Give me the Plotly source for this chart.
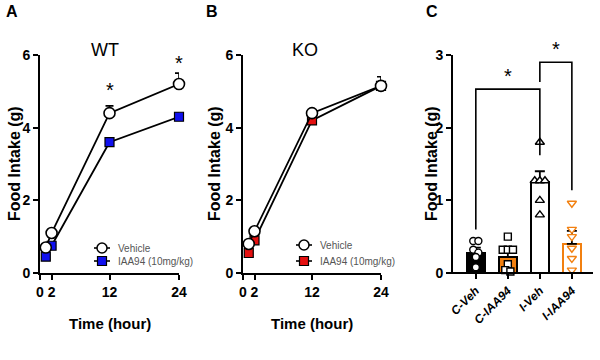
import plotly.graph_objects as go

# ---------------- data ----------------
time_h = [1, 2, 12, 24]
wt_vehicle = [0.7, 1.1, 4.4, 5.2]
wt_vehicle_err = [0.05, 0.08, 0.2, 0.3]
wt_iaa = [0.45, 0.75, 3.6, 4.3]
wt_iaa_err = [0.05, 0.08, 0.1, 0.1]
ko_vehicle = [0.8, 1.15, 4.4, 5.15]
ko_vehicle_err = [0.05, 0.08, 0.08, 0.25]
ko_iaa = [0.55, 0.9, 4.2, 5.15]
ko_iaa_err = [0.05, 0.05, 0.08, 0.1]
time_ticks = [0, 2, 12, 24]
fi_ticks_ab = [0, 2, 4, 6]
legend_labels = ["Vehicle", "IAA94 (10mg/kg)"]

groups = ["C-Veh", "C-IAA94", "I-Veh", "I-IAA94"]
group_means = [0.28, 0.22, 1.25, 0.40]
group_sem = [0.07, 0.08, 0.15, 0.18]
c_veh_pts = [0.44, 0.44, 0.32, 0.28, 0.22, 0.08]
c_iaa_pts = [0.50, 0.32, 0.32, 0.32, 0.12, 0.04, 0.02]
i_veh_pts = [1.80, 1.27, 1.27, 1.27, 1.00, 0.80]
i_iaa_pts = [0.96, 0.60, 0.50, 0.34, 0.20, 0.04]
fi_ticks_c = [0, 1, 2, 3]

BLUE = "#1010ee"
RED = "#e41010"
ORANGE = "#f28010"
FONT = "Liberation Sans, Arial, sans-serif"
NARROW = "Liberation Sans Narrow, Arial Narrow, Liberation Sans, sans-serif"
W, H = 600, 360

fig = go.Figure()

def px2x(p):
    return p / W

def px2y(p):
    return 1 - p / H

# ---------------- panel A & B line plots ----------------
def add_lines(xa, ya, veh, veh_err, iaa, iaa_err, color):
    fig.add_trace(go.Scatter(
        x=time_h, y=iaa, mode="lines+markers", name=legend_labels[1],
        xaxis=xa, yaxis=ya, showlegend=False, cliponaxis=False,
        line=dict(color="black", width=1.8),
        marker=dict(symbol="square", size=9, color=color, line=dict(color="black", width=1.2)),
        error_y=dict(type="data", symmetric=False, array=iaa_err, arrayminus=[0]*4,
                     color="black", thickness=1.5, width=4),
    ))
    fig.add_trace(go.Scatter(
        x=time_h, y=veh, mode="lines+markers", name=legend_labels[0],
        xaxis=xa, yaxis=ya, showlegend=False, cliponaxis=False,
        line=dict(color="black", width=1.8),
        marker=dict(symbol="circle", size=11, color="white", line=dict(color="black", width=1.6)),
        error_y=dict(type="data", symmetric=False, array=veh_err, arrayminus=[0]*4,
                     color="black", thickness=1.6, width=4),
    ))

add_lines("x", "y", wt_vehicle, wt_vehicle_err, wt_iaa, wt_iaa_err, BLUE)
add_lines("x2", "y2", ko_vehicle, ko_vehicle_err, ko_iaa, ko_iaa_err, RED)

# ---------------- panel C bars ----------------
xpos = list(range(len(groups)))
bar_fill = ["black", ORANGE, "white", "white"]
bar_line = ["black", "black", "black", ORANGE]
fig.add_trace(go.Bar(
    x=xpos, y=group_means, width=0.56, xaxis="x3", yaxis="y3", showlegend=False,
    marker=dict(color=bar_fill, line=dict(color=bar_line, width=2)),
    error_y=dict(type="data", symmetric=False, array=group_sem, arrayminus=[0]*4,
                 color="black", thickness=1.8, width=5),
))

def swarm(center, vals, step=0.16, tol=0.07):
    order = sorted(range(len(vals)), key=lambda k: -vals[k])
    grp = []
    for k in order:
        if grp and abs(vals[grp[-1][0]] - vals[k]) < tol:
            grp[-1].append(k)
        else:
            grp.append([k])
    out = [center] * len(vals)
    for g in grp:
        n = len(g)
        for j, k in enumerate(g):
            out[k] = center + (j - (n - 1) / 2) * step
    return out

pt_specs = [
    (c_veh_pts, "circle", "black", 7),
    (c_iaa_pts, "square", "black", 7),
    (i_veh_pts, "triangle-up", "black", 8),
    (i_iaa_pts, "triangle-down", ORANGE, 8),
]
for gi, (vals, sym, col, sz) in enumerate(pt_specs):
    fig.add_trace(go.Scatter(
        x=swarm(gi, vals), y=vals, mode="markers", xaxis="x3", yaxis="y3",
        showlegend=False, cliponaxis=False,
        marker=dict(symbol=sym, size=sz, color="white", line=dict(color=col, width=1.4)),
    ))

# significance brackets (group a, group b, height, left leg bottom, right leg bottom)
brackets = [(0, 2, 2.53, 0.6, 1.62), (2, 3, 2.9, 2.63, 1.14)]
for a, b, h, la, lb in brackets:
    fig.add_trace(go.Scatter(
        x=[a, a, b, b], y=[la, h, h, lb], mode="lines", xaxis="x3", yaxis="y3",
        showlegend=False, hoverinfo="skip", cliponaxis=False,
        line=dict(color="black", width=1.6),
    ))
    fig.add_annotation(x=(a + b) / 2, y=h, xref="x3", yref="y3", text="*", showarrow=False,
                       yanchor="bottom", yshift=0, font=dict(size=20, color="black", family=FONT))

# ---------------- axes ----------------
ydom = [(H - 273) / H, (H - 55) / H]
tickfont = dict(family=NARROW, size=14, color="black", weight="bold")
ax_common = dict(showline=True, linecolor="black", linewidth=2, ticks="outside",
                 ticklen=5, tickwidth=2, tickcolor="black", showgrid=False, zeroline=False,
                 automargin=False)
xtitle_font = dict(family=NARROW, size=15, color="black", weight="bold")
ytitle_font = dict(family=FONT, size=16, color="black", weight="bold")

fig.update_layout(
    xaxis=dict(domain=[40 / W, 179 / W], range=[0, 24], tickvals=time_ticks, tickfont=tickfont,
               anchor="y", **ax_common),
    yaxis=dict(domain=ydom, range=[0, 6], tickvals=fi_ticks_ab, tickfont=tickfont,
               anchor="x", **ax_common),
    xaxis2=dict(domain=[243 / W, 381 / W], range=[0, 24], tickvals=time_ticks, tickfont=tickfont,
                anchor="y2", **ax_common),
    yaxis2=dict(domain=ydom, range=[0, 6], tickvals=fi_ticks_ab, tickfont=tickfont,
                anchor="x2", **ax_common),
    xaxis3=dict(domain=[447 / W, 593 / W], range=[-0.9, 3.66], tickvals=xpos, ticktext=groups,
                tickangle=-45, anchor="free", position=ydom[0],
                tickfont=dict(family=FONT, size=12, color="black", weight="bold", style="italic"),
                **ax_common),
    yaxis3=dict(domain=ydom, range=[0, 3], tickvals=fi_ticks_c, tickfont=tickfont,
                anchor="free", position=452 / W, **ax_common),
)

# axis titles
for px in [15, 215, 432]:
    fig.add_annotation(x=px2x(px), y=px2y(164), xref="paper", yref="paper", text="Food Intake (g)",
                       textangle=-90, showarrow=False, xanchor="center", yanchor="middle",
                       font=ytitle_font)
for px in [110, 312]:
    fig.add_annotation(x=px2x(px), y=px2y(323), xref="paper", yref="paper", text="Time (hour)",
                       showarrow=False, xanchor="center", yanchor="middle", font=xtitle_font)

# manual legends
def add_legend(cx, cy0, dy, sq_color):
    for i, lab in enumerate(legend_labels):
        cy = cy0 + i * dy
        fig.add_shape(type="line", xref="paper", yref="paper",
                      x0=px2x(cx - 8), x1=px2x(cx + 8), y0=px2y(cy), y1=px2y(cy),
                      line=dict(color="black", width=1.6))
        if i == 0:
            fig.add_shape(type="circle", xref="paper", yref="paper",
                          x0=px2x(cx - 5), x1=px2x(cx + 5), y0=px2y(cy - 5), y1=px2y(cy + 5),
                          fillcolor="white", line=dict(color="black", width=1.5))
        else:
            fig.add_shape(type="rect", xref="paper", yref="paper",
                          x0=px2x(cx - 4.5), x1=px2x(cx + 4.5), y0=px2y(cy - 4.5), y1=px2y(cy + 4.5),
                          fillcolor=sq_color, line=dict(color="black", width=1.2))
        fig.add_annotation(x=px2x(cx + 14), y=px2y(cy), xref="paper", yref="paper", text=lab,
                           showarrow=False, xanchor="left", yanchor="middle",
                           font=dict(family=NARROW, size=10, color="#555555"))

add_legend(102, 248, 13, BLUE)
add_legend(304, 245, 16, RED)

# panel letters and titles
for txt, px, py, sz, wt in [("A", 12, 12, 16, "bold"), ("B", 212, 12, 16, "bold"),
                            ("C", 432, 12, 16, "bold"), ("WT", 105, 50, 18, "normal"),
                            ("KO", 305, 50, 18, "normal")]:
    fig.add_annotation(x=px2x(px), y=px2y(py), xref="paper", yref="paper", text=txt,
                       showarrow=False, xanchor="center", yanchor="middle",
                       font=dict(family=NARROW, size=sz, color="black", weight=wt))

# stars panel A (position of star centre in data units)
star_x = [12, 24]
star_y = [5.15, 5.9]
for xv, yv in zip(star_x, star_y):
    fig.add_annotation(x=xv, y=yv, xref="x", yref="y", text="*", showarrow=False,
                       yanchor="middle", yshift=-4, font=dict(size=20, color="black", family=FONT))

fig.update_layout(width=W, height=H, margin=dict(l=0, r=0, t=0, b=0),
                  plot_bgcolor="white", paper_bgcolor="white", bargap=0)

fig.write_html("out.html", config={"displayModeBar": False},
               post_script="document.body.style.margin='0px';document.body.style.overflow='hidden';")
